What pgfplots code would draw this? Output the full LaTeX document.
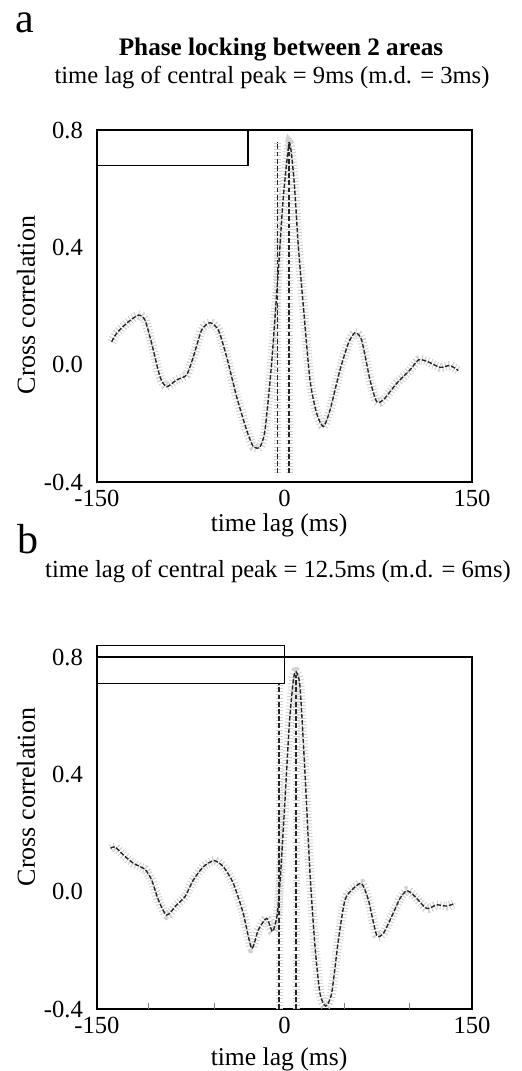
\documentclass[border=0pt]{standalone}
\usepackage{fontspec}
\setmainfont{Liberation Serif}
\usepackage{pgfplots}
\usepackage{pgfplotstable}
\pgfplotsset{compat=1.18}

% panel a: cross correlation trace
\pgfplotstableread{
x y
-138.3 0.078
-134.3 0.107
-126.3 0.141
-116.9 0.169
-111.6 0.152
-106.3 0.073
-99.6 -0.041
-94.3 -0.075
-86.3 -0.052
-78.3 -0.035
-72.9 0.027
-66.3 0.118
-59.6 0.143
-52.9 0.118
-46.3 0.027
-38.3 -0.109
-30.3 -0.223
-24.9 -0.280
-19.6 -0.280
-15.6 -0.223
-10.3 0.005
-4.9 0.323
-0.9 0.573
3.9 0.755
7.6 0.630
11.1 0.402
15.1 0.198
20.4 -0.052
25.7 -0.166
31.1 -0.211
36.4 -0.155
44.4 -0.018
51.1 0.073
56.4 0.109
61.7 0.084
68.4 -0.052
73.7 -0.126
79.1 -0.120
89.7 -0.064
100.4 -0.018
107.1 0.016
113.7 0.012
124.4 -0.009
132.4 -0.003
139.1 -0.020
}\lagA

% panel b
\pgfplotstableread{
x y
-139.1 0.148
-135.6 0.153
-128.9 0.125
-120.9 0.097
-111.6 0.076
-106.3 0.040
-100.9 -0.028
-94.3 -0.080
-86.3 -0.045
-79.6 -0.017
-72.9 0.040
-64.9 0.085
-56.4 0.106
-48.9 0.085
-40.9 0.028
-33.0 -0.074
-26.3 -0.193
-21.0 -0.131
-14.3 -0.091
-9.5 -0.136
-5.7 -0.074
-3.1 0.063
0.4 0.313
3.9 0.574
7.1 0.722
9.2 0.750
12.4 0.699
16.4 0.403
20.4 0.063
24.4 -0.187
28.4 -0.347
32.9 -0.390
37.7 -0.347
43.1 -0.165
48.4 -0.028
55.1 0.011
61.7 0.028
67.1 -0.028
73.7 -0.148
79.1 -0.142
85.7 -0.085
92.4 -0.023
97.7 0.003
103.1 -0.011
113.7 -0.057
121.7 -0.045
129.7 -0.049
136.4 -0.040
}\lagB

\pgfplotsset{
  panel/.style={
    scale only axis, width=187.5pt, height=176pt,
    xmin=-150, xmax=150, ymin=-0.4, ymax=0.8,
    xtick={-150,0,150}, xticklabels={-150,0,150},
    ytick={-0.4,0,0.4,0.8}, yticklabels={-0.4,0.0,0.4,0.8},
    major tick length=0pt,
    tick label style={font=\fontsize{12.3}{14}\selectfont},
    yticklabel style={xshift=-3.5pt},
    xticklabel style={inner sep=1pt, yshift=-3pt},
    /pgf/number format/assume math mode=true,
    axis line style={line width=0.6pt},
    clip=false, anchor=north west},
  halo/.style={gray!35, line width=4.5pt, dash pattern=on 0.5pt off 1.1pt, smooth, tension=0.4},
  trace/.style={black!85, line width=0.7pt, dash pattern=on 2.2pt off 0.9pt, smooth, tension=0.4},
  vhalo/.style={gray!35, line width=3.5pt, dash pattern=on 0.5pt off 1.1pt},
  vline/.style={black!85, line width=0.6pt, dash pattern=on 2.4pt off 1.2pt}
}

\begin{document}
\begin{tikzpicture}
\useasboundingbox (0,0) rectangle (261pt,-535.5pt);
\tikzset{every node/.style={font=\fontsize{12.3}{14}\selectfont}}

\node[anchor=base west,font=\fontsize{21}{24}\selectfont] at (4pt,-16pt) {a};
\node[anchor=base,font=\fontsize{12.6}{15}\selectfont\bfseries] at (140.5pt,-27.5pt) {Phase locking between 2 areas};
\node[anchor=base] at (136pt,-41.5pt) {time lag of central peak = 9ms (m.d. = 3ms)};
\node[rotate=90,font=\fontsize{13}{15}\selectfont] at (13pt,-152.5pt) {Cross correlation};
\node[anchor=base,inner sep=0pt,font=\fontsize{12.8}{15}\selectfont] at (139.5pt,-265.5pt) {time lag (ms)};

\begin{axis}[panel, at={(48.5pt,-65pt)}]
\addplot[halo] table {\lagA};
\addplot[vhalo] coordinates {(-5.5,-0.37)(-5.5,0.76)};
\addplot[vhalo] coordinates {(3.6,-0.37)(3.6,0.76)};
\addplot[vline] coordinates {(-5.5,-0.37)(-5.5,0.76)};
\addplot[vline] coordinates {(3.6,-0.37)(3.6,0.76)};
\addplot[trace] table {\lagA};
\draw[line width=0.6pt, fill=white] (axis cs:-150,0.8) rectangle (axis cs:-29.2,0.68);
\end{axis}

\node[anchor=base west,font=\fontsize{21}{24}\selectfont] at (5pt,-276.5pt) {b};
\node[anchor=base] at (139pt,-288.5pt) {time lag of central peak = 12.5ms (m.d. = 6ms)};
\node[rotate=90,font=\fontsize{13}{15}\selectfont] at (13pt,-398.5pt) {Cross correlation};
\node[anchor=base,inner sep=0pt,font=\fontsize{12.8}{15}\selectfont] at (139.5pt,-532.5pt) {time lag (ms)};

\begin{axis}[panel, at={(48.5pt,-328.5pt)},
  extra x ticks={-109,-56,48,100}, extra x tick labels={},
  extra x tick style={major tick length=3pt, tick align=inside, xtick pos=lower}]
\addplot[halo] table {\lagB};
\addplot[vhalo] coordinates {(-4.4,-0.4)(-4.4,0.71)};
\addplot[vhalo] coordinates {(9.2,-0.4)(9.2,0.74)};
\addplot[vline] coordinates {(-4.4,-0.4)(-4.4,0.71)};
\addplot[vline] coordinates {(9.2,-0.4)(9.2,0.74)};
\addplot[trace] table {\lagB};
\draw[line width=0.6pt] (axis cs:-150,0.838) rectangle (axis cs:0,0.711);
\end{axis}
\end{tikzpicture}
\end{document}
